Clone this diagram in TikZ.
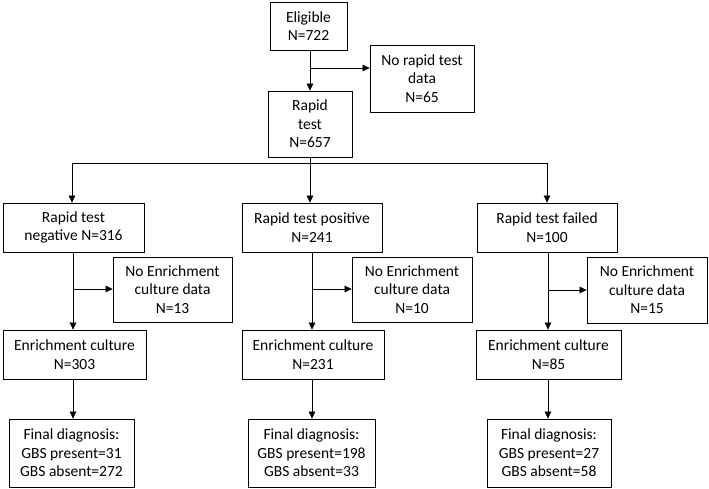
\documentclass[tikz,border=0pt]{standalone}
\usepackage{fontspec}
\setmainfont{Carlito}
\usetikzlibrary{arrows.meta,calc}
\begin{document}
\begin{tikzpicture}[x=1pt,y=-1pt,
  box/.style={draw, line width=0.8pt, align=center, inner sep=1pt,
    font=\fontsize{15.5}{18.5}\selectfont},
  conn/.style={line width=0.6pt},
  arr/.style={conn, -{Triangle[length=7pt,width=6.5pt]}}]
\useasboundingbox (0,0) rectangle (709,488);
\node[box, minimum width=77pt, minimum height=48pt] (elig) at (308.5,26) {Eligible\\N=722};
\node[box, minimum width=104pt, minimum height=67pt] (norapid) at (422,78.5) {No rapid test\\data\\N=65};
\node[box, minimum width=84pt, minimum height=66pt] (rapid) at (310,124) {Rapid\\test\\N=657};
\node[box, minimum width=141pt, minimum height=49pt] (neg) at (73.5,227.5) {Rapid test\\negative N=316};
\node[box, minimum width=140pt, minimum height=49pt] (pos) at (312,227.5) {Rapid test positive\\N=241};
\node[box, minimum width=140pt, minimum height=49pt] (fail) at (547,227.5) {Rapid test failed\\N=100};
\node[box, minimum width=119pt, minimum height=65pt] (ne1) at (172.5,289.5) {No Enrichment\\culture data\\N=13};
\node[box, minimum width=120pt, minimum height=65pt] (ne2) at (412,289.5) {No Enrichment\\culture data\\N=10};
\node[box, minimum width=120pt, minimum height=66pt] (ne3) at (647,290) {No Enrichment\\culture data\\N=15};
\node[box, minimum width=143pt, minimum height=49pt] (ec1) at (74.5,354.5) {Enrichment culture\\N=303};
\node[box, minimum width=142pt, minimum height=49pt] (ec2) at (313,354.5) {Enrichment culture\\N=231};
\node[box, minimum width=145pt, minimum height=49pt] (ec3) at (548.5,354.5) {Enrichment culture\\N=85};
\node[box, minimum width=125pt, minimum height=68pt] (fd1) at (71.5,453) {Final diagnosis:\\GBS present=31\\GBS absent=272};
\node[box, minimum width=127pt, minimum height=68pt] (fd2) at (311.5,453) {Final diagnosis:\\GBS present=198\\GBS absent=33};
\node[box, minimum width=124pt, minimum height=68pt] (fd3) at (549,453) {Final diagnosis:\\GBS present=27\\GBS absent=58};
% top
\coordinate (t1) at (310,50);
\coordinate (b0) at (310,68);
\draw[arr] (t1) -- (t1 |- rapid.north);
\draw[arr] (b0) -- (b0 -| norapid.west);
% split
\coordinate (sp) at (310,163);
\coordinate (sl) at (72,163);
\coordinate (sr) at (547,163);
\draw[conn] (rapid.south -| sp) -- (sp);
\draw[conn] (sl) -- (sr);
\draw[arr] (sl) -- (sl |- neg.north);
\draw[arr] (sp) -- (sp |- pos.north);
\draw[arr] (sr) -- (sr |- fail.north);
% branches
\coordinate (c1) at (73,252);
\coordinate (c2) at (312,252);
\coordinate (c3) at (548,252);
\draw[arr] (c1) -- (c1 |- ec1.north);
\draw[arr] (c2) -- (c2 |- ec2.north);
\draw[arr] (c3) -- (c3 |- ec3.north);
\coordinate (d1) at (73,289);
\coordinate (d2) at (312,289);
\coordinate (d3) at (548,290);
\draw[arr] (d1) -- (d1 -| ne1.west);
\draw[arr] (d2) -- (d2 -| ne2.west);
\draw[arr] (d3) -- (d3 -| ne3.west);
\coordinate (e1) at (73,379);
\coordinate (e2) at (312,379);
\coordinate (e3) at (548,379);
\draw[arr] (e1) -- (e1 |- fd1.north);
\draw[arr] (e2) -- (e2 |- fd2.north);
\draw[arr] (e3) -- (e3 |- fd3.north);
\end{tikzpicture}
\end{document}
